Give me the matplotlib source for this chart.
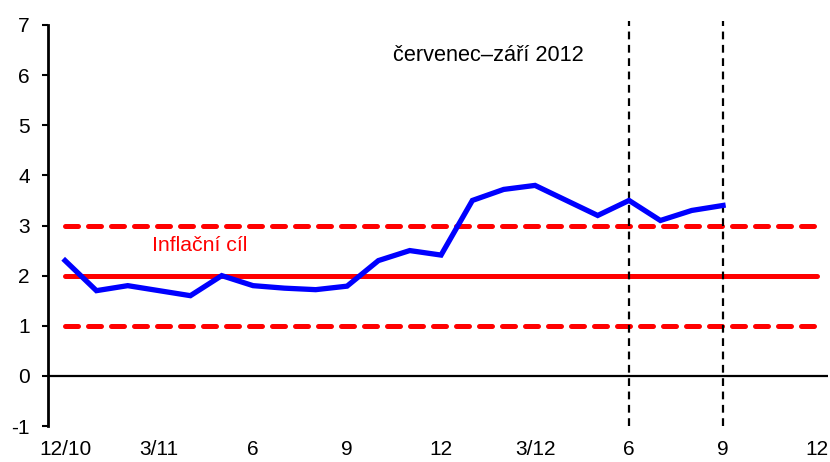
import matplotlib.pyplot as plt

plt.rcParams['font.family'] = ['Liberation Sans', 'DejaVu Sans']
plt.rcParams['axes.unicode_minus'] = False

# monthly inflation, 12/2010 .. 9/2012
inflation = [2.3, 1.7, 1.8, 1.7, 1.6, 2.0, 1.8, 1.75, 1.72, 1.79, 2.3, 2.5, 2.41,
             3.5, 3.72, 3.8, 3.5, 3.2, 3.5, 3.1, 3.3, 3.4]
tick_pos = [0, 3, 6, 9, 12, 15, 18, 21, 24]
tick_labels = ['12/10', '3/11', '6', '9', '12', '3/12', '6', '9', '12']
target = 2
band_low, band_high = 1, 3
window = [18, 21]  # červenec-září 2012

fig = plt.figure(figsize=(8.3, 4.62), dpi=100)
ax = fig.add_axes([48 / 830, 1 - 426 / 462, (828 - 48) / 830, (426 - 25) / 462])

months = list(range(len(inflation)))
ax.plot([0, 24], [target, target], color='#ff0000', lw=3.6, solid_capstyle='round')
for b in (band_low, band_high):
    ax.plot([0, 24], [b, b], color='#ff0000', lw=3.6, dashes=(2.6, 2.0),
            dash_capstyle='round')
ax.axhline(0, color='black', lw=1.6)
for w in window:
    ax.axvline(w, color='black', lw=1.6, dashes=(3.5, 2.5), ymin=0, ymax=1.01,
               clip_on=False)
ax.plot(months, inflation, color='#0000ff', lw=3.8, solid_joinstyle='miter')

ax.text(4.3, 2.6, 'Inflační cíl', color='#ff0000', fontsize=15.3, ha='center', va='center')
ax.text(13.5, 6.4, 'červenec–září 2012', color='black', fontsize=15.7, ha='center',
        va='center')

ax.set_xlim(-0.545, 24.35)
ax.set_ylim(-1, 7)
ax.set_yticks(range(-1, 8))
ax.set_xticks(tick_pos)
ax.set_xticklabels(tick_labels)
ax.tick_params(axis='y', length=4, width=1.5, pad=9, labelsize=15)
ax.tick_params(axis='x', length=0, pad=10, labelsize=15)
for s in ('top', 'right', 'bottom'):
    ax.spines[s].set_visible(False)
ax.spines['left'].set_linewidth(2)

fig.savefig('out.png', dpi=100)
